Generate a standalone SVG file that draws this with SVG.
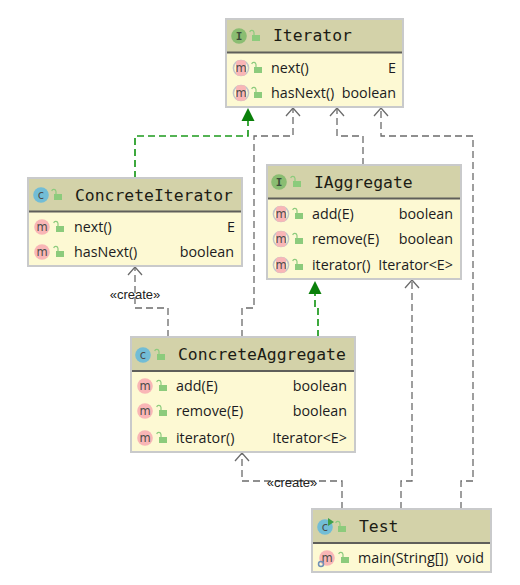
<svg xmlns="http://www.w3.org/2000/svg" width="520" height="585" viewBox="0 0 520 585">
<style>
.box{fill:#fdf9d3;stroke:#c9cacb;stroke-width:2}
.head{fill:#d3d2a9}
.sep{stroke:#5f5f5a;stroke-width:2}
.title{font-family:"DejaVu Sans Mono",monospace;font-size:16.4px;fill:#1c1c14}
.mem{font-family:"Open Sans","Noto Sans",sans-serif;font-size:14.300px;fill:#1c1c22}
.r{text-anchor:end}
.ico{font-family:"DejaVu Sans",sans-serif;font-size:11.500px;text-anchor:middle;fill:#4c4c48}
.icoi{font-family:"DejaVu Sans Mono",monospace;font-size:11px;font-weight:bold;text-anchor:middle;fill:#3c4c38}
.dep{fill:none;stroke:#6b6b6b;stroke-width:1.300;stroke-dasharray:7 4}
.imp{fill:none;stroke:#1d9a1d;stroke-width:1.700;stroke-dasharray:7 4}
.open{fill:none;stroke:#6b6b6b;stroke-width:1.300}
.tri{fill:#0a800a}
.lab{font-family:"Liberation Sans",Arial,sans-serif;font-size:13px;text-anchor:middle;fill:#222}
</style>
<defs>
<g id="lock"><rect x="-4" y="-1" width="8" height="6" fill="#8ccb7c"/><path d="M-2-1V-3.500a2.200 2.200 0 0 0-4.300-.5" fill="none" stroke="#8ccb7c" stroke-width="1.200"/></g>
<circle id="mc" r="7.800" fill="#f9b6b6"/>
<g id="mi"><circle r="7.600" fill="none" stroke="#c3c5c9" stroke-width="1.500"/><rect x="-5" y="-7.800" width="10" height="15.600" rx="3" fill="#f9b6b6"/></g>
<circle id="cc" r="7.800" fill="#72bdd6"/>
<circle id="ic" r="7.800" fill="#8abd72"/>
</defs>

<g id="connectors">
<path class="imp" d="M135 178V136H248V120"/>
<path class="tri" d="M248 108L254.500 121H241.500Z"/>
<path class="dep" d="M242 337V308H254V136H293V109"/>
<path class="open" d="M286 116L293 108L300 116"/>
<path class="dep" d="M363 165V136H337V109"/>
<path class="open" d="M330 116L337 108L344 116"/>
<path class="dep" d="M461 509V481H473V136H381V109"/>
<path class="open" d="M374 116L381 108L388 116"/>
<path class="dep" d="M401 509V481H412V281"/>
<path class="open" d="M405 288L412 280L419 288"/>
<path class="dep" d="M342 509V481H242V454"/>
<path class="open" d="M235 461L242 453L249 461"/>
<path class="dep" d="M168 337V308H135V268"/>
<path class="open" d="M128 275L135 267L142 275"/>
<path class="imp" d="M318 337V308H315V292"/>
<path class="tri" d="M315 281L321.500 294H308.500Z"/>
<text class="lab" x="135" y="299">«create»</text>
<text class="lab" x="292" y="487">«create»</text>
</g>

<g id="node-iterator">
<rect class="box" x="226" y="19" width="177" height="88"/>
<rect class="head" x="227" y="20" width="175" height="32"/>
<line class="sep" x1="227" y1="52.500" x2="402" y2="52.500"/>
<use href="#ic" x="239" y="36"/><text class="icoi" x="239" y="40">I</text>
<use href="#lock" x="256" y="36"/>
<text class="title" x="273" y="41">Iterator</text>
<use href="#mi" x="241" y="68"/><text class="ico" x="241" y="72">m</text><use href="#lock" x="258" y="68"/>
<text class="mem" x="271" y="73">next()</text><text class="mem r" x="396" y="73">E</text>
<use href="#mi" x="241" y="93"/><text class="ico" x="241" y="97">m</text><use href="#lock" x="258" y="93"/>
<text class="mem" x="271" y="98">hasNext()</text><text class="mem r" x="396" y="98">boolean</text>
</g>

<g id="node-concrete-iterator">
<rect class="box" x="28" y="178" width="214" height="88"/>
<rect class="head" x="29" y="179" width="212" height="32"/>
<line class="sep" x1="29" y1="211.500" x2="241" y2="211.500"/>
<use href="#cc" x="41" y="195"/><text class="ico" x="41" y="199">c</text>
<use href="#lock" x="58" y="195"/>
<text class="title" x="75" y="201">ConcreteIterator</text>
<use href="#mc" x="42" y="227"/><text class="ico" x="42" y="231">m</text><use href="#lock" x="60" y="227"/>
<text class="mem" x="74" y="232">next()</text><text class="mem r" x="235" y="232">E</text>
<use href="#mc" x="42" y="252"/><text class="ico" x="42" y="256">m</text><use href="#lock" x="60" y="252"/>
<text class="mem" x="74" y="257">hasNext()</text><text class="mem r" x="234" y="257">boolean</text>
</g>

<g id="node-iaggregate">
<rect class="box" x="267" y="165" width="194" height="114"/>
<rect class="head" x="268" y="166" width="192" height="32"/>
<line class="sep" x1="268" y1="198.500" x2="460" y2="198.500"/>
<use href="#ic" x="279" y="182"/><text class="icoi" x="279" y="186">I</text>
<use href="#lock" x="297" y="182"/>
<text class="title" x="314" y="188">IAggregate</text>
<use href="#mi" x="281" y="214"/><text class="ico" x="281" y="218">m</text><use href="#lock" x="299" y="214"/>
<text class="mem" x="312" y="219">add(E)</text><text class="mem r" x="453" y="219">boolean</text>
<use href="#mi" x="281" y="239"/><text class="ico" x="281" y="243">m</text><use href="#lock" x="299" y="239"/>
<text class="mem" x="312" y="244">remove(E)</text><text class="mem r" x="453" y="244">boolean</text>
<use href="#mi" x="281" y="265"/><text class="ico" x="281" y="269">m</text><use href="#lock" x="299" y="265"/>
<text class="mem" x="312" y="270">iterator()</text><text class="mem r" x="453" y="270">Iterator&lt;E&gt;</text>
</g>

<g id="node-concrete-aggregate">
<rect class="box" x="131" y="337" width="224" height="115"/>
<rect class="head" x="132" y="338" width="222" height="33"/>
<line class="sep" x1="132" y1="371" x2="354" y2="371"/>
<use href="#cc" x="143" y="355"/><text class="ico" x="143" y="359">c</text>
<use href="#lock" x="161" y="355"/>
<text class="title" x="178" y="360">ConcreteAggregate</text>
<use href="#mc" x="145" y="386"/><text class="ico" x="145" y="390">m</text><use href="#lock" x="163" y="386"/>
<text class="mem" x="176" y="391">add(E)</text><text class="mem r" x="347" y="391">boolean</text>
<use href="#mc" x="145" y="411"/><text class="ico" x="145" y="415">m</text><use href="#lock" x="163" y="411"/>
<text class="mem" x="176" y="416">remove(E)</text><text class="mem r" x="347" y="416">boolean</text>
<use href="#mc" x="145" y="438"/><text class="ico" x="145" y="442">m</text><use href="#lock" x="163" y="438"/>
<text class="mem" x="176" y="443">iterator()</text><text class="mem r" x="347" y="443">Iterator&lt;E&gt;</text>
</g>

<g id="node-test">
<rect class="box" x="312" y="509" width="179" height="63"/>
<rect class="head" x="313" y="510" width="177" height="33"/>
<line class="sep" x1="313" y1="543" x2="490" y2="543"/>
<use href="#cc" x="325" y="527"/><text class="ico" x="325" y="531">c</text>
<path d="M328 518l6 4-6 4z" fill="#3f9f4a"/>
<use href="#lock" x="342" y="527"/>
<text class="title" x="359" y="532">Test</text>
<use href="#mc" x="327" y="558"/><text class="ico" x="327" y="562">m</text>
<circle cx="321" cy="564" r="2.500" fill="none" stroke="#6f8fb5" stroke-width="1.500"/>
<use href="#lock" x="345" y="558"/>
<text class="mem" x="358" y="563">main(String[])</text><text class="mem r" x="484" y="563">void</text>
</g>
</svg>
